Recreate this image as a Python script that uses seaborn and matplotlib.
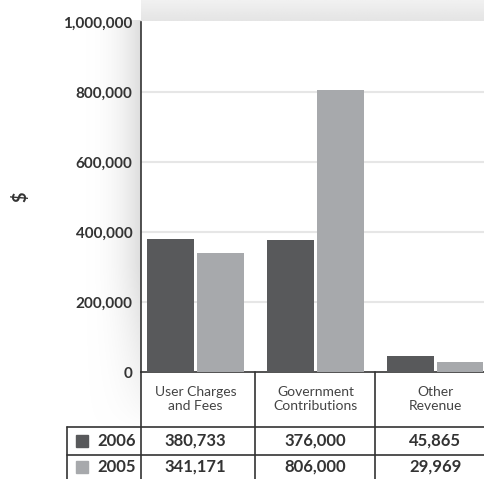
import numpy as np
import pandas as pd
import matplotlib
matplotlib.use("Agg")
import matplotlib.pyplot as plt
import seaborn as sns
from matplotlib.transforms import blended_transform_factory
from matplotlib.patches import Rectangle
from matplotlib.lines import Line2D

categories = ["User Charges\nand Fees", "Government\nContributions", "Other\nRevenue"]
years = ["2006", "2005"]
values_2006 = [380733, 376000, 45865]
values_2005 = [341171, 806000, 29969]
yticks = [0, 200000, 400000, 600000, 800000, 1000000]
colors = {"2006": "#58595b", "2005": "#a7a9ac"}

df = pd.DataFrame({
    "category": categories * 2,
    "year": ["2006"] * 3 + ["2005"] * 3,
    "value": values_2006 + values_2005,
})

sns.set_style("white")
plt.rcParams["font.family"] = ["Lato", "DejaVu Sans"]

W, H = 485, 479
fig = plt.figure(figsize=(W / 100, H / 100), dpi=100)

# background gradients
bg = fig.add_axes([0, 0, 1, 1], zorder=-5)
bg.set_xlim(0, W); bg.set_ylim(H, 0); bg.axis("off")
# top band (vertical gradient)
top = np.linspace(0.945, 0.895, 30).reshape(-1, 1) * np.ones((1, 4))
bg.imshow(top, cmap="gray", vmin=0, vmax=1, extent=[141, W, 21, 0],
          aspect="auto", interpolation="bilinear")
# left band: fades from white to light gray near axis, fades out at bottom
xs = np.linspace(0, 1, 80)
ys = np.linspace(0, 1, 100)
X, Y = np.meshgrid(xs, ys)
alpha = (X ** 2.6) * np.clip((1 - Y) * 2.5, 0, 1) ** 0.8
img = np.zeros((100, 80, 4))
img[..., :3] = 0.87
img[..., 3] = alpha
bg.imshow(img, extent=[78, 141, 430, 20], aspect="auto", interpolation="bilinear")

ax = fig.add_axes([141 / W, (H - 372) / H, (W - 141) / W, (372 - 22) / H])
ax.set_facecolor("none")
sns.barplot(data=df, x="category", y="value", hue="year", hue_order=years,
            palette=colors, width=0.83, gap=0.07, linewidth=0,
            saturation=1, ax=ax, legend=False, zorder=3)
ax.set_xlim(-0.454, 2.413)
ax.set_ylim(0, 1000000)
ax.set_yticks(yticks)
ax.set_yticklabels([f"{v:,}" for v in yticks], fontsize=11, fontweight="bold", color="#333333")
ax.tick_params(axis="y", length=0, pad=6)
ax.set_xticks([])
ax.set_xlabel("")
ax.set_ylabel("")
for v in yticks[1:-1]:
    ax.axhline(v, color="#e6e6e6", lw=1.5, zorder=1)
for s in ["top", "right"]:
    ax.spines[s].set_visible(False)
ax.spines["left"].set_color("#333333")
ax.spines["left"].set_linewidth(1.2)
ax.spines["bottom"].set_color("#333333")
ax.spines["bottom"].set_linewidth(1.2)

fig.text(20 / W, 1 - 197 / H, "$", rotation=90, ha="center", va="center",
         fontsize=13, fontweight="bold", color="#333333")

# table below the axes (x in data units, y in pixels)
tr = blended_transform_factory(ax.transData, bg.transData)
lc = "#333333"
lw = 1.2
for xd in [0.5, 1.5]:
    ax.add_line(Line2D([xd, xd], [372, H], transform=tr, color=lc, lw=lw, clip_on=False))
bg.add_line(Line2D([141, 141], [372, H], color=lc, lw=lw))
for yp in [427, 455]:
    bg.add_line(Line2D([67, W], [yp, yp], color=lc, lw=lw))
bg.add_line(Line2D([67, 67], [427, H], color=lc, lw=lw))

for i, c in enumerate(categories):
    ax.text(i, 399, c, transform=tr, ha="center", va="center", fontsize=10,
            color="#444444", linespacing=1.25)

rows = [("2006", values_2006, 441), ("2005", values_2005, 467)]
for yr, vals, yp in rows:
    bg.add_patch(Rectangle((76, yp - 6), 12, 12, color=colors[yr]))
    bg.text(97, yp, yr, ha="left", va="center", fontsize=12, fontweight="bold", color="#333333")
    for i, v in enumerate(vals):
        ax.text(i, yp, f"{v:,}", transform=tr, ha="center", va="center",
                fontsize=12, fontweight="bold", color="#333333")

fig.savefig("out.png", dpi=100)
